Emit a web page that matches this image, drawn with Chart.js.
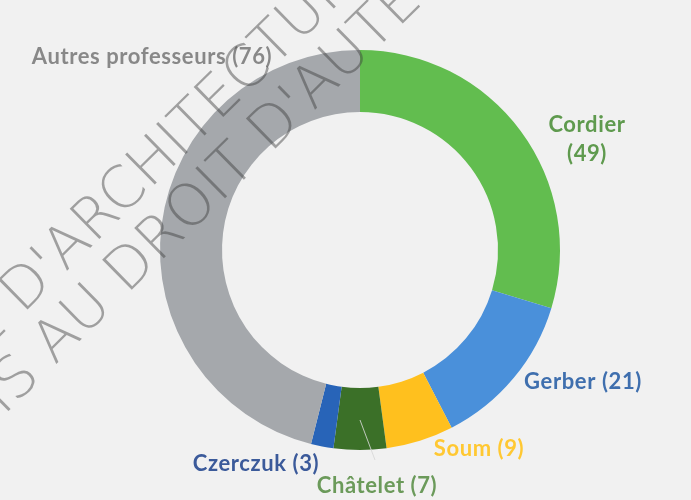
<!DOCTYPE html>
<html>
<head>
<meta charset="utf-8">
<script src="https://cdn.jsdelivr.net/npm/chart.js@4/dist/chart.umd.min.js"></script>
<style>
  html, body { margin: 0; padding: 0; background: #f1f1f1; }
  #wrap { width: 691px; height: 500px; position: relative; }
</style>
</head>
<body>
<div id="wrap"><canvas id="c" width="691" height="500"></canvas></div>
<script>
// ---- data ----
const categories = ["Cordier", "Gerber", "Soum", "Châtelet", "Czerczuk", "Autres professeurs"];
const values = [49, 21, 9, 7, 3, 76];
const sliceColors = ["#62bd4f", "#4a90da", "#ffc01e", "#3b7028", "#2864b8", "#a5a8ac"];
const labelColors = ["#5f9a4e", "#3f6fae", "#ffc832", "#6b9a5a", "#3b5a9a", "#888888"];
const watermarkLines = ["ÉCOLE NATIONALE SUPÉRIEURE D'ARCHITECTURE", "DOCUMENT SOUMIS AU DROIT D'AUTEUR"];

// label placement relative to chart centre, in units of outer radius
const labelPlacement = [
  { dx: 1.135, dy: -0.552, lines: 2 },
  { dx: 1.115, dy: 0.66, lines: 1 },
  { dx: 0.595, dy: 0.995, lines: 1 },
  { dx: 0.085, dy: 1.18, lines: 1 },
  { dx: -0.52, dy: 1.07, lines: 1 },
  { dx: -1.04, dy: -0.965, lines: 1 }
];

const labelPlugin = {
  id: 'sliceLabels',
  afterDatasetsDraw(chart) {
    const ctx = chart.ctx;
    const meta = chart.getDatasetMeta(0);
    const arc0 = meta.data[0];
    const cx = arc0.x, cy = arc0.y, R = arc0.outerRadius;
    // leader line for Châtelet
    ctx.save();
    ctx.strokeStyle = 'rgba(215,215,215,0.85)';
    ctx.lineWidth = 1;
    ctx.beginPath();
    ctx.moveTo(cx, cy + 0.85 * R);
    ctx.lineTo(cx + 0.075 * R, cy + 1.05 * R);
    ctx.stroke();
    ctx.restore();

    ctx.save();
    ctx.font = "bold 22px Lato";
    try { ctx.letterSpacing = '0.6px'; } catch (e) {}
    ctx.textAlign = 'center';
    ctx.textBaseline = 'middle';
    meta.data.forEach((arc, i) => {
      const p = labelPlacement[i];
      const x = cx + p.dx * R, y = cy + p.dy * R;
      ctx.fillStyle = labelColors[i];
      const txt = categories[i] + " (" + values[i] + ")";
      if (p.lines === 2) {
        ctx.fillText(categories[i], x, y - 14.5);
        ctx.fillText("(" + values[i] + ")", x, y + 14.5);
      } else {
        ctx.fillText(txt, x, y);
      }
    });
    ctx.restore();
  },
  afterDraw(chart) {
    const ctx = chart.ctx;
    ctx.save();
    ctx.font = "200 58px 'DejaVu Sans'";
    ctx.fillStyle = 'rgba(60,60,60,0.45)';
    ctx.textAlign = 'left';
    ctx.textBaseline = 'alphabetic';
    const ang = -44.5 * Math.PI / 180;
    const anchors = [
      { x: 80, y: 258, prefix: "ÉCOLE NATIONALE SUPÉRIEURE D'", half: "A" },
      { x: 328, y: 97, prefix: "DOCUMENT SOUMIS AU DROIT D'", half: "A" }
    ];
    watermarkLines.forEach((line, i) => {
      const a = anchors[i];
      let off = ctx.measureText(a.prefix).width;
      if (a.half) off += ctx.measureText(a.half).width / 2;
      ctx.save();
      ctx.translate(a.x, a.y);
      ctx.rotate(ang);
      ctx.fillText(line, -off, 0);
      ctx.restore();
    });
    ctx.restore();
  }
};

const bgPlugin = {
  id: 'bg',
  beforeDraw(chart) {
    const ctx = chart.ctx;
    ctx.save();
    ctx.fillStyle = '#f1f1f1';
    ctx.fillRect(0, 0, chart.width, chart.height);
    ctx.restore();
  }
};

new Chart(document.getElementById('c'), {
  type: 'doughnut',
  data: {
    labels: categories,
    datasets: [{
      data: values,
      backgroundColor: sliceColors,
      borderWidth: 0,
      hoverOffset: 0
    }]
  },
  options: {
    responsive: false,
    animation: false,
    cutout: '69%',
    layout: { padding: { top: 50, bottom: 50, left: 29, right: 0 } },
    plugins: {
      legend: { display: false },
      tooltip: { enabled: false },
      title: { display: false }
    }
  },
  plugins: [bgPlugin, labelPlugin]
});
</script>
</body>
</html>
